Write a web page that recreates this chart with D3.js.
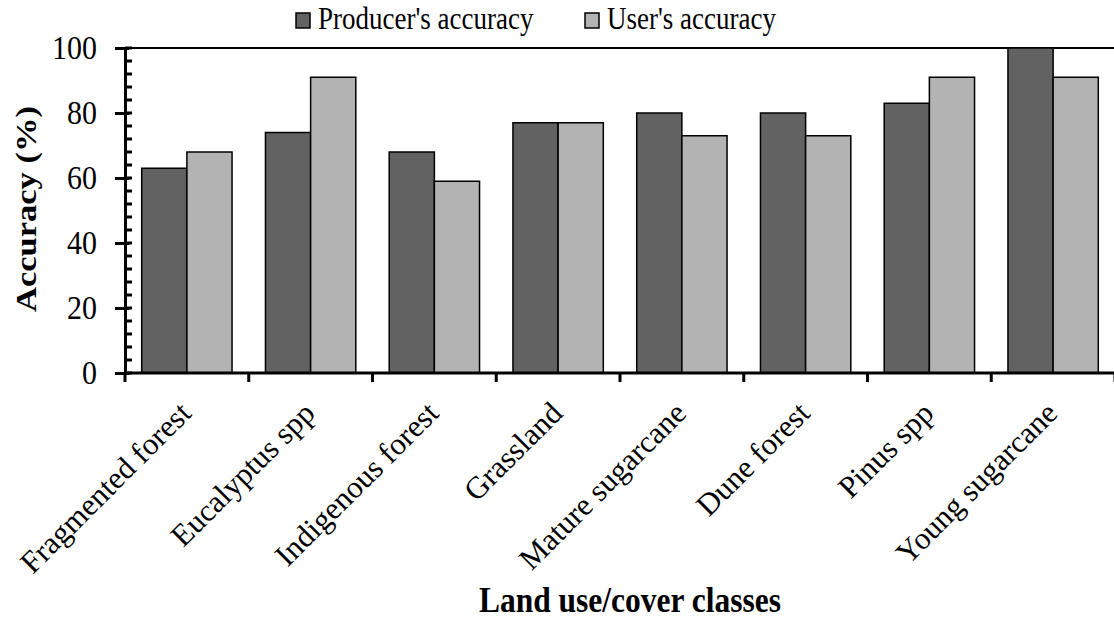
<!DOCTYPE html>
<html>
<head>
<meta charset="utf-8">
<script src="https://cdn.jsdelivr.net/npm/d3@7"></script>
<style>
  body { margin: 0; background: #fff; }
  svg text { font-family: "Liberation Serif", "Times New Roman", serif; fill: #000; }
</style>
</head>
<body>
<div id="chart"></div>
<script>
// data
var categories = ["Fragmented forest", "Eucalyptus spp", "Indigenous forest", "Grassland",
                  "Mature sugarcane", "Dune forest", "Pinus spp", "Young sugarcane"];
var seriesNames = ["Producer's accuracy", "User's accuracy"];
var producers = [63, 74, 68, 77, 80, 80, 83, 100];
var users = [68, 91, 59, 77, 73, 73, 91, 91];
var yTicks = [0, 20, 40, 60, 80, 100];

var w = 1114, h = 619;
var mLeft = 125, mRight = 1115, mTop = 48, mBottom = 373;
var colors = ["#626262", "#b3b3b3"];
var stretch = 1.15; // text in the original looks a little tall

var svg = d3.select("#chart").append("svg")
    .attr("width", w)
    .attr("height", h);

var x = d3.scaleBand().domain(categories).range([mLeft, mRight]).paddingInner(0.27).paddingOuter(0.135);
var x1 = d3.scaleBand().domain([0, 1]).range([0, x.bandwidth()]);
var y = d3.scaleLinear().domain([0, 100]).range([mBottom, mTop]);

// top border line
svg.append("line")
    .attr("x1", mLeft).attr("x2", mRight)
    .attr("y1", y(100)).attr("y2", y(100))
    .attr("stroke", "#000").attr("stroke-width", 2);

// bars
var groups = svg.selectAll("g.cat")
    .data(categories)
    .enter()
    .append("g")
    .attr("class", "cat")
    .attr("transform", function (d) { return "translate(" + x(d) + ",0)"; });

groups.selectAll("rect")
    .data(function (d, i) { return [producers[i], users[i]]; })
    .enter()
    .append("rect")
    .attr("x", function (d, j) { return x1(j); })
    .attr("y", function (d) { return y(d); })
    .attr("width", x1.bandwidth())
    .attr("height", function (d) { return y(0) - y(d); })
    .attr("fill", function (d, j) { return colors[j]; })
    .attr("stroke", "#000")
    .attr("stroke-width", 1.5);

// y axis: minor ticks inside
var minor = d3.range(0, 101, 4);
svg.selectAll("line.minor")
    .data(minor)
    .enter()
    .append("line")
    .attr("class", "minor")
    .attr("x1", mLeft).attr("x2", mLeft + 7)
    .attr("y1", function (d) { return y(d); })
    .attr("y2", function (d) { return y(d); })
    .attr("stroke", "#000").attr("stroke-width", 3);

var yAxis = svg.append("g")
    .attr("transform", "translate(" + mLeft + ",0)")
    .call(d3.axisLeft(y).tickValues(yTicks).tickSize(10).tickPadding(6).tickFormat(d3.format("d")));
yAxis.select(".domain").attr("stroke-width", 3);
yAxis.selectAll(".tick line").attr("stroke-width", 3).attr("x2", -10).attr("x1", 4);
yAxis.selectAll(".tick text")
    .attr("font-size", 30)
    .attr("font-family", "Liberation Serif")
    .attr("dy", null)
    .attr("x", null)
    .attr("transform", "translate(-28,0) scale(1," + stretch + ") translate(0,9)");

// x axis: ticks at category borders
var bounds = d3.range(categories.length + 1).map(function (i) { return mLeft + i * x.step(); });
svg.append("line")
    .attr("x1", mLeft).attr("x2", mRight)
    .attr("y1", mBottom).attr("y2", mBottom)
    .attr("stroke", "#000").attr("stroke-width", 3);
svg.selectAll("line.xtick")
    .data(bounds)
    .enter()
    .append("line")
    .attr("class", "xtick")
    .attr("x1", function (d) { return d; })
    .attr("x2", function (d) { return d; })
    .attr("y1", mBottom).attr("y2", mBottom + 9)
    .attr("stroke", "#000").attr("stroke-width", 3);

// category labels
svg.selectAll("text.cat")
    .data(categories)
    .enter()
    .append("text")
    .attr("class", "cat")
    .attr("transform", function (d) {
        return "translate(" + (x(d) + x.bandwidth() / 2 + 6) + "," + (mBottom + 42) + ") rotate(-45)";
    })
    .attr("text-anchor", "end")
    .attr("font-size", 31)
    .text(function (d) { return d; });

// axis titles
svg.append("text")
    .attr("transform", "translate(36,209) scale(1," + stretch + ") rotate(-90)")
    .attr("text-anchor", "middle")
    .attr("font-size", 30)
    .attr("font-weight", "bold")
    .text("Accuracy (%)");

svg.append("text")
    .attr("transform", "translate(630,612) scale(1," + stretch + ")")
    .attr("text-anchor", "middle")
    .attr("font-size", 31.5)
    .attr("font-weight", "bold")
    .text("Land use/cover classes");

// legend
var legendX = [296, 585];
var legend = svg.selectAll("g.legend")
    .data(seriesNames)
    .enter()
    .append("g")
    .attr("class", "legend")
    .attr("transform", function (d, i) { return "translate(" + legendX[i] + ",13)"; });
legend.append("rect")
    .attr("width", 14).attr("height", 15)
    .attr("fill", function (d, i) { return colors[i]; })
    .attr("stroke", "#000").attr("stroke-width", 1.5);
legend.append("text")
    .attr("transform", "translate(22,16) scale(1," + stretch + ")")
    .attr("font-size", 27)
    .text(function (d) { return d; });
</script>
</body>
</html>
